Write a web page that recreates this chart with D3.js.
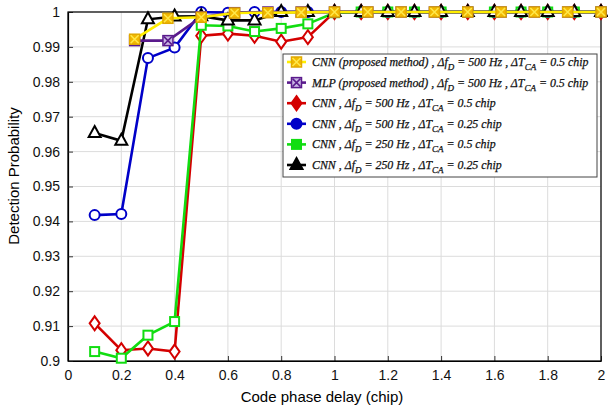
<!DOCTYPE html>
<html><head><meta charset="utf-8">
<script src="https://cdn.jsdelivr.net/npm/d3@7"></script>
<style>body{margin:0;background:#fff}svg{display:block}</style>
</head><body>
<svg id="c" width="608" height="409"></svg>
<script>
const xTicks = [0,0.2,0.4,0.6,0.8,1,1.2,1.4,1.6,1.8,2];
const yTicks = [0.9,0.91,0.92,0.93,0.94,0.95,0.96,0.97,0.98,0.99,1];
const xFine = [0.1,0.2,0.3,0.4,0.5,0.6,0.7,0.8,0.9,1.0,1.1,1.2,1.3,1.4,1.5,1.6,1.7,1.8,1.9,2.0];
const xCoarse = [0.25,0.375,0.5,0.625,0.75,0.875,1.0,1.125,1.25,1.375,1.5,1.625,1.75,1.875,2.0];
const cnnProposed = [0.9922,0.9982,0.9985,0.9997,0.9998,0.9999,1,1,1,1,1,1,1,1,1];
const mlpProposed = [0.9918,0.9918,0.9986,0.9998,1,1,1,1,1,1,1,1,1,1,1];
const cnn500_05 = [0.9108,0.9031,0.9036,0.9027,0.9932,0.9938,0.9932,0.9915,0.9928,1,1,1,1,1,1,1,1,1,1,1];
const cnn500_025 = [0.9418,0.9421,0.9868,0.9898,1,0.9998,1,1,1,1,1,1,1,1,1,1,1,1,1,1];
const cnn250_05 = [0.9027,0.9008,0.9074,0.9113,0.9962,0.9960,0.9944,0.9953,0.9966,0.9998,1,1,1,1,1,1,1,1,1,1];
const cnn250_025 = [0.9653,0.9631,0.9979,0.9987,0.9988,0.9976,0.9976,1,1,1,1,1,1,1,1,1,1,1,1,1];

const series = [
  {name:"CNN , Δf|D| = 500 Hz , ΔT|CA| = 0.5 chip", xs:xFine, ys:cnn500_05, color:"#d40000", mk:"diamond", fill:"#fff"},
  {name:"CNN , Δf|D| = 500 Hz , ΔT|CA| = 0.25 chip", xs:xFine, ys:cnn500_025, color:"#0000c8", mk:"circle", fill:"#fff"},
  {name:"CNN , Δf|D| = 250 Hz , ΔT|CA| = 0.5 chip", xs:xFine, ys:cnn250_05, color:"#11dd11", mk:"square", fill:"#fff"},
  {name:"CNN , Δf|D| = 250 Hz , ΔT|CA| = 0.25 chip", xs:xFine, ys:cnn250_025, color:"#000000", mk:"triangle", fill:"#fff"},
  {name:"MLP (proposed method) , Δf|D| = 500 Hz , ΔT|CA| = 0.5 chip", xs:xCoarse, ys:mlpProposed, color:"#5a1a8c", mk:"sqx", fill:"#c9b6e4"},
  {name:"CNN (proposed method) , Δf|D| = 500 Hz , ΔT|CA| = 0.5 chip", xs:xCoarse, ys:cnnProposed, color:"#ffee00", mk:"sqx", fill:"#f2b800", mkStroke:"#e0a800"}
];
const legendOrder = [5,4,0,1,2,3];

const svg = d3.select("#c");
const x = d3.scaleLinear().domain([0,2]).range([68,601]);
const y = d3.scaleLinear().domain([0.9,1]).range([361,12]);

// grid
const g = svg.append("g");
g.selectAll(".gx").data(xTicks).enter().append("line")
 .attr("x1",d=>x(d)).attr("x2",d=>x(d)).attr("y1",y(0.9)).attr("y2",y(1))
 .attr("stroke","#dcdcdc").attr("stroke-width",1);
g.selectAll(".gy").data(yTicks).enter().append("line")
 .attr("y1",d=>y(d)).attr("y2",d=>y(d)).attr("x1",x(0)).attr("x2",x(2))
 .attr("stroke","#dcdcdc").attr("stroke-width",1);

// axes
const ax = d3.axisBottom(x).tickValues(xTicks).tickSizeInner(-5).tickSizeOuter(0).tickPadding(9).tickFormat(d=>d3.format("")(d));
const ay = d3.axisLeft(y).tickValues(yTicks).tickSizeInner(-5).tickSizeOuter(0).tickPadding(8).tickFormat(d=>d3.format("")(d));
const gx = svg.append("g").attr("transform",`translate(0,${y(0.9)})`).call(ax);
const gy = svg.append("g").attr("transform",`translate(${x(0)},0)`).call(ay);
[gx,gy].forEach(a=>{a.selectAll("text").attr("font-family","Liberation Sans, Arial, sans-serif").attr("font-size",14).attr("fill","#111");
 a.select(".domain").attr("stroke","#000").attr("stroke-width",1.2);
 a.selectAll(".tick line").attr("stroke","#333");});
// box
svg.append("rect").attr("x",x(0)).attr("y",y(1)).attr("width",x(2)-x(0)).attr("height",y(0.9)-y(1))
 .attr("fill","none").attr("stroke","#000").attr("stroke-width",1.2);

svg.append("text").attr("x",322).attr("y",402).attr("text-anchor","middle")
 .attr("font-family","Liberation Sans, Arial, sans-serif").attr("font-size",15).text("Code phase delay (chip)");
svg.append("text").attr("transform","translate(19,176) rotate(-90)").attr("text-anchor","middle")
 .attr("font-family","Liberation Sans, Arial, sans-serif").attr("font-size",15).text("Detection Probability");

function drawMarker(sel, mk, cx, cy, color, fill, mkStroke){
  const st = mkStroke||color;
  if(mk==="diamond"){
    sel.append("path").attr("d",`M${cx},${cy-7}L${cx+5},${cy}L${cx},${cy+7}L${cx-5},${cy}Z`).attr("fill",fill).attr("stroke",color).attr("stroke-width",2);
  } else if(mk==="circle"){
    sel.append("circle").attr("cx",cx).attr("cy",cy).attr("r",5).attr("fill",fill).attr("stroke",color).attr("stroke-width",2);
  } else if(mk==="square"){
    sel.append("rect").attr("x",cx-4.5).attr("y",cy-4.5).attr("width",9).attr("height",9).attr("fill",fill).attr("stroke",color).attr("stroke-width",2);
  } else if(mk==="triangle"){
    sel.append("path").attr("d",`M${cx},${cy-7}L${cx+6},${cy+4}L${cx-6},${cy+4}Z`).attr("fill",fill).attr("stroke",color).attr("stroke-width",2);
  } else if(mk==="sqx"){
    sel.append("rect").attr("x",cx-5).attr("y",cy-5).attr("width",10).attr("height",10).attr("fill",fill).attr("stroke",st).attr("stroke-width",1.5);
    sel.append("path").attr("d",`M${cx-4},${cy-4}L${cx+4},${cy+4}M${cx-4},${cy+4}L${cx+4},${cy-4}`).attr("stroke",mkStroke?"#ffe84a":color).attr("stroke-width",1.5);
  }
}

const line = d3.line().x(d=>x(d[0])).y(d=>y(d[1]));
series.forEach(s=>{
  const pts = s.xs.map((v,i)=>[v,s.ys[i]]);
  const gs = svg.append("g");
  gs.append("path").attr("d",line(pts)).attr("fill","none").attr("stroke",s.color).attr("stroke-width",2.6);
  pts.forEach(p=>drawMarker(gs,s.mk,x(p[0]),y(p[1]),s.color,s.fill,s.mkStroke));
});

// legend
const lg = svg.append("g");
lg.append("rect").attr("x",283).attr("y",54).attr("width",314).attr("height",123).attr("fill","#fff").attr("stroke","#444").attr("stroke-width",1);
legendOrder.forEach((si,i)=>{
  const s = series[si];
  const cy = 62 + i*20.6;
  lg.append("line").attr("x1",287).attr("x2",306).attr("y1",cy).attr("y2",cy).attr("stroke",s.color).attr("stroke-width",2.6);
  const legFill = s.mk==="sqx" ? s.fill : s.color;
  drawMarker(lg,s.mk,296.5,cy,s.color,legFill,s.mkStroke);
  const t = lg.append("text").attr("x",312).attr("y",cy+4).attr("font-family","Liberation Serif, Times New Roman, serif").attr("font-style","italic").attr("font-size",11.9).attr("fill","#111").attr("stroke","#111").attr("stroke-width",0.25);
  const parts = s.name.split("|");
  parts.forEach((p,k)=>{
    const sub = k%2===1;
    const ts = t.append("tspan").text(p);
    if(sub) ts.attr("dy",4).attr("font-size",9);
    else if(k>0) ts.attr("dy",-4);
  });
});
</script>
</body></html>
